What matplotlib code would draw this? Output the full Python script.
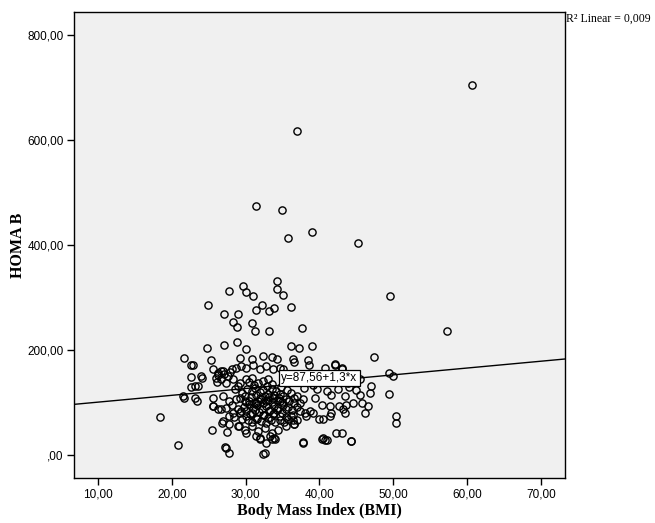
import numpy as np
import matplotlib
matplotlib.use("Agg")
import matplotlib.pyplot as plt

# BMI / HOMA B values
bmi = [
    60.7, 36.9, 31.4, 34.9, 35.7, 39.0, 45.2, 49.5, 57.3,
    27.8, 29.7, 30.1, 31.0, 34.2, 34.2, 35.1, 36.2, 24.9, 27.0, 29.0,
    28.3, 28.8, 30.9, 31.2, 31.4, 32.2, 33.2, 33.8, 33.2, 37.6,
    24.8, 27.1, 28.8, 30.1, 36.1, 37.2, 39.0, 47.4,
    21.7, 22.6, 22.9, 25.3, 36.4, 36.6, 38.4, 38.6, 42.1, 40.7, 43.0, 49.4, 50.0,
    22.6, 24.1, 23.6, 22.6, 23.1, 21.6, 23.4, 18.4, 20.8,
    49.4, 46.8, 45.5, 39.4, 41.6, 43.4, 43.6, 44.5, 45.8, 46.6, 42.7, 43.2, 40.3, 41.4,
    43.4, 46.1, 50.3, 50.3, 40.0, 40.5, 41.4, 41.6, 38.0, 38.7, 36.6, 36.4, 42.2, 43.0,
    40.3, 40.8, 37.8, 44.3,
    25.5, 27.5, 26.8, 27.3, 27.2, 27.8, 25.6, 26.2, 27.8, 29.2, 29.1, 30.1, 31.4, 31.9,
    32.6, 32.3, 33.5, 34.0, 33.8,
    29.2, 30.8, 32.3, 33.5, 34.2, 42.1, 43.1,
    25.6, 26.2, 26.9, 28.1, 28.7, 29.4, 30.1, 31.0, 31.9, 32.8, 33.7, 34.6, 35.1, 24.0,
    26.0, 26.7, 27.4, 28.3, 29.2, 30.1, 30.8, 31.7, 32.3, 33.0,
    38.4, 39.1, 40.5, 42.3, 43.9, 45.5, 21.5, 23.1,
    25.6, 26.9, 27.8, 28.7, 29.9, 30.5, 31.4, 32.1, 32.8, 33.7, 34.6, 35.5, 36.6, 37.8,
    25.6, 26.7, 27.4, 28.3, 29.4, 30.1, 30.8, 31.4, 32.3, 33.0, 33.9, 34.6,
    35.5, 36.4, 37.3, 38.2, 39.1,
    26.9, 27.8, 29.0, 29.9, 30.8, 31.7, 32.6, 33.5, 34.4, 35.5, 36.6,
    31.9, 32.8, 33.3, 40.5, 41.0, 44.3, 37.8,
    29.5, 30.2, 30.8, 31.3, 31.9, 32.4, 33.0, 33.6, 34.1, 34.7,
    29.8, 30.4, 31.0, 31.6, 32.2, 32.7, 33.3, 33.9, 34.4, 35.0,
    30.0, 30.6, 31.2, 31.8, 32.5, 33.1, 33.7, 34.3, 34.9, 35.4,
    30.3, 30.9, 31.5, 32.1, 32.8, 33.4, 34.0, 34.6, 35.2, 35.8,
    29.3, 29.9, 30.7, 31.4, 32.0, 32.6, 33.2, 33.8, 34.5, 35.1,
    28.6, 29.0, 30.5, 31.1, 32.9, 33.5, 34.8, 35.6, 36.2, 36.9,
    28.2, 28.9, 35.7, 36.3, 36.9, 37.4, 28.4, 29.5, 36.1, 37.0,
    31.7, 32.3, 33.0, 33.6, 34.2, 30.1, 31.1, 34.9, 35.9, 36.6,
    26.3, 26.6, 27.0, 27.6, 27.9, 26.1,
    37.3, 38.1, 39.5, 40.2, 36.8, 37.9, 39.6, 41.0, 42.5, 44.0, 45.0, 47.0,
]
homa = [
    705, 617, 475, 466, 414, 425, 403, 302, 236,
    313, 321, 310, 302, 332, 317, 304, 281, 286, 269, 269,
    253, 243, 252, 237, 277, 285, 274, 279, 237, 242,
    203, 210, 215, 202, 207, 203, 207, 186,
    184, 171, 171, 181, 182, 178, 180, 172, 174, 166, 163, 156, 150,
    149, 147, 132, 129, 132, 109, 102, 72, 19,
    117, 118, 115, 109, 115, 112, 96, 98, 99, 93, 93, 87, 96, 94,
    80, 80, 74, 61, 68, 68, 74, 80, 80, 83, 58, 67, 41, 42,
    31, 28, 24, 26,
    47, 44, 60, 14, 16, 3, 93, 87, 74, 80, 55, 42, 36, 30,
    4, 1, 30, 30, 33,
    185, 182, 189, 187, 182, 172, 165,
    163, 156, 159, 163, 166, 169, 166, 172, 163, 169, 163, 166, 163, 150,
    147, 144, 137, 144, 137, 144, 147, 137, 140, 144,
    140, 134, 140, 144, 137, 144, 112, 109,
    109, 112, 102, 106, 112, 102, 99, 106, 102, 109, 102, 106, 99, 106,
    93, 87, 90, 80, 83, 74, 80, 71, 77, 71, 80, 74,
    87, 77, 83, 74, 80,
    64, 58, 55, 48, 55, 45, 52, 42, 48, 55, 58,
    33, 23, 36, 33, 29, 26, 23,
    118, 125, 121, 128, 119, 124, 116, 126, 121, 117,
    92, 97, 90, 95, 88, 93, 86, 94, 90, 96,
    84, 78, 85, 81, 76, 83, 78, 85, 80, 73,
    66, 62, 68, 64, 60, 66, 62, 67, 63, 69,
    108, 103, 110, 114, 108, 113, 110, 115, 109, 112,
    126, 132, 138, 133, 131, 135, 129, 124, 118, 113,
    95, 88, 91, 85, 92, 98, 72, 68, 74, 66,
    102, 99, 104, 100, 105, 100, 98, 101, 103, 108,
    152, 160, 155, 151, 158, 138,
    150, 155, 148, 152, 145, 128, 125, 122, 126, 130, 124, 132,
]

intercept = 87.56
slope = 1.3
xticks = [10, 20, 30, 40, 50, 60, 70]
yticks = [0, 200, 400, 600, 800]


def fmt(v):
    # SPSS style: comma decimal, zero shown as ",00"
    if v == 0:
        return ",00"
    return f"{v:.2f}".replace(".", ",")


fig = plt.figure(figsize=(6.55, 5.23), dpi=100)
ax = fig.add_axes([74 / 655, 45 / 523, 491 / 655, 466 / 523])
ax.set_facecolor("#f0f0f0")

ax.plot(bmi, homa, linestyle="none", marker="o", markersize=5.2,
        markerfacecolor="none", markeredgecolor="black", markeredgewidth=1.0)

xlim = (6.75, 73.25)
ax.set_xlim(xlim)
ax.set_ylim(-44, 844)
xs = np.array(xlim)
ax.plot(xs, intercept + slope * xs, color="black", lw=1.0)

ax.text(40.0, 146.5, "y=87,56+1,3*x", ha="center", va="center",
        fontsize=8.5, family="Liberation Sans",
        bbox=dict(boxstyle="square,pad=0.2", facecolor="white",
                  edgecolor="black", lw=0.9))

ax.set_xticks(xticks)
ax.set_xticklabels([fmt(v) for v in xticks])
ax.set_yticks(yticks)
ax.set_yticklabels([fmt(v) for v in yticks])
ax.tick_params(direction="out", length=5, width=1, labelsize=8.5,
               color="black", pad=2.5)
for lab in ax.get_xticklabels() + ax.get_yticklabels():
    lab.set_family("Liberation Sans")

for s in ax.spines.values():
    s.set_linewidth(1.0)
    s.set_color("black")

ax.set_xlabel("Body Mass Index (BMI)", family="Liberation Serif",
              fontweight="bold", fontsize=11.5, labelpad=2)
ax.set_ylabel("HOMA B", family="Liberation Serif", fontweight="bold",
              fontsize=11.5)
ax.yaxis.set_label_coords(-0.097, 0.5)

fig.text(566 / 655, 1 - 19 / 523, "R² Linear = 0,009", family="Liberation Serif",
         fontsize=8.5, ha="left", va="center")

fig.savefig("out.png", dpi=100)
